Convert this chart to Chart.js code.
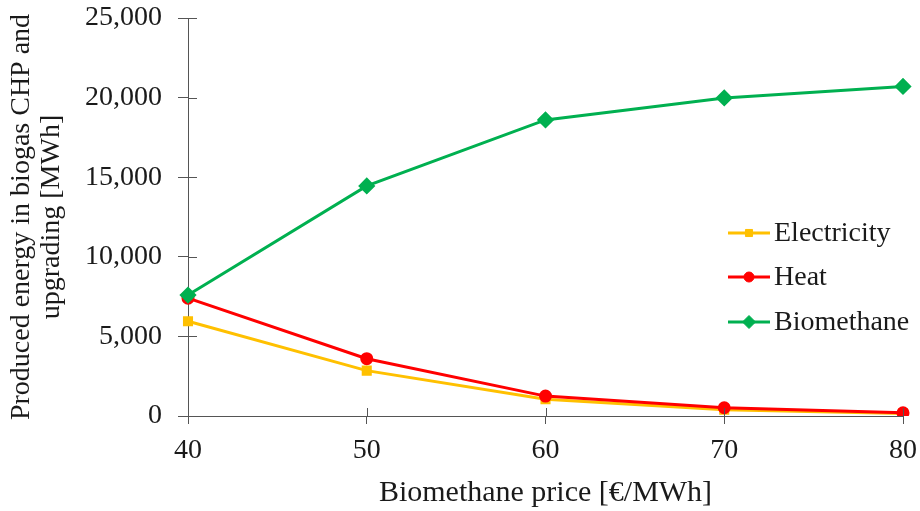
<!DOCTYPE html>
<html>
<head>
<meta charset="utf-8">
<script src="https://cdn.jsdelivr.net/npm/chart.js@4/dist/chart.umd.min.js"></script>
<style>
html,body{margin:0;padding:0;background:#fff;}
#wrap{width:920px;height:511px;position:relative;}
</style>
</head>
<body>
<div id="wrap"><canvas id="c" width="920" height="511"></canvas></div>
<script>
const categories = ['40', '50', '60', '70', '80'];
const electricity = [5950, 2850, 1050, 400, 150];
const heat = [7400, 3600, 1250, 520, 200];
const biomethane = [7600, 14450, 18600, 19980, 20700];
const yTicks = [0, 5000, 10000, 15000, 20000, 25000];
const seriesNames = ['Electricity', 'Heat', 'Biomethane'];
const xTitle = 'Biomethane price [€/MWh]';
const yTitle = ['Produced energy in biogas CHP and', 'upgrading [MWh]'];

const FONT = 'Liberation Serif, Times New Roman, serif';
const AXIS = '#555555';
const TEXT = '#1a1a1a';

const crossTicks = {
  id: 'crossTicks',
  afterDraw(chart) {
    const ctx = chart.ctx, x = chart.scales.x, y = chart.scales.y;
    ctx.save();
    ctx.strokeStyle = AXIS;
    ctx.lineWidth = 1;
    ctx.beginPath();
    y.ticks.forEach(t => {
      const py = Math.round(y.getPixelForValue(t.value)) + 0.5;
      ctx.moveTo(y.right, py); ctx.lineTo(y.right + 9, py);
    });
    x.ticks.forEach((t, i) => {
      const px = Math.round(x.getPixelForTick(i)) + 0.5;
      ctx.moveTo(px, x.top); ctx.lineTo(px, x.top - 8);
    });
    ctx.stroke();
    ctx.restore();
  }
};

const customLegend = {
  id: 'customLegend',
  afterDraw(chart) {
    const ctx = chart.ctx;
    const area = chart.chartArea;
    const x0 = area.right - 175, lineLen = 42;
    const rows = [233, 277, 322];
    const order = [0, 1, 2];
    ctx.save();
    order.forEach((di, r) => {
      const ds = chart.data.datasets[di];
      const yy = rows[r];
      ctx.strokeStyle = ds.borderColor;
      ctx.lineWidth = 3;
      ctx.beginPath();
      ctx.moveTo(x0, yy); ctx.lineTo(x0 + lineLen, yy);
      ctx.stroke();
      ctx.fillStyle = ds.backgroundColor;
      ctx.strokeStyle = ds.borderColor;
      ctx.lineWidth = 1;
      Chart.helpers.drawPoint(ctx, {
        pointStyle: ds.pointStyle, radius: ds.pointRadius, borderWidth: 1, rotation: 0
      }, x0 + lineLen / 2, yy);
      ctx.fillStyle = TEXT;
      ctx.font = '28px ' + FONT;
      ctx.textBaseline = 'middle';
      ctx.textAlign = 'left';
      ctx.fillText(ds.label, x0 + lineLen + 4, yy + 1);
    });
    ctx.restore();
  }
};

new Chart(document.getElementById('c'), {
  type: 'line',
  data: {
    labels: categories,
    datasets: [
      { label: seriesNames[0], data: electricity, borderColor: '#FFC000', backgroundColor: '#FFC000',
        pointStyle: 'rect', pointRadius: 5, borderWidth: 3, order: 2 },
      { label: seriesNames[1], data: heat, borderColor: '#FF0000', backgroundColor: '#FF0000',
        pointStyle: 'circle', pointRadius: 5, borderWidth: 3, order: 1 },
      { label: seriesNames[2], data: biomethane, borderColor: '#00B050', backgroundColor: '#00B050',
        pointStyle: 'rectRot', pointRadius: 6.5, borderWidth: 3, order: 0 }
    ]
  },
  options: {
    responsive: false,
    animation: false,
    layout: { padding: { top: 18, right: 17, bottom: 0, left: 7 } },
    plugins: { legend: { display: false }, tooltip: { enabled: false } },
    elements: { line: { tension: 0 }, point: { borderWidth: 1 } },
    scales: {
      x: {
        offset: false,
        afterFit(scale) { scale.height = 95; scale.paddingLeft = 0; scale.paddingRight = 0; },
        grid: { display: true, drawOnChartArea: false, drawTicks: true, tickLength: 8, color: AXIS },
        border: { display: true, color: AXIS, width: 1 },
        ticks: { color: TEXT, font: { family: FONT, size: 28 }, padding: 10, maxRotation: 0 },
        title: { display: true, text: xTitle, color: TEXT, font: { family: FONT, size: 30 }, padding: { top: 0, bottom: 0 } }
      },
      y: {
        min: 0, max: 25000,
        afterBuildTicks(scale) { scale.ticks = yTicks.map(v => ({ value: v })); },
        afterFit(scale) { scale.width = 181; scale.paddingTop = 0; scale.paddingBottom = 0; },
        grid: { display: true, drawOnChartArea: false, drawTicks: true, tickLength: 10, color: AXIS },
        border: { display: true, color: AXIS, width: 1 },
        ticks: { color: TEXT, font: { family: FONT, size: 28 }, padding: 16,
          callback: v => v.toLocaleString('en-US') },
        title: { display: true, text: yTitle, color: TEXT, font: { family: FONT, size: 28, lineHeight: 1.07 }, padding: { top: 0, bottom: 2 } }
      }
    }
  },
  plugins: [crossTicks, customLegend]
});
</script>
</body>
</html>
